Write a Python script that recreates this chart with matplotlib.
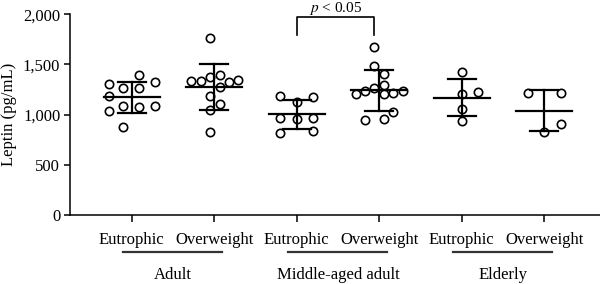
import numpy as np
import matplotlib.pyplot as plt
from matplotlib.transforms import blended_transform_factory

plt.rcParams['font.family'] = ['Liberation Serif', 'DejaVu Serif']
plt.rcParams['font.size'] = 12
plt.rcParams['mathtext.fontset'] = 'stix'

# group / category names
subgroups = ["Eutrophic", "Overweight", "Eutrophic", "Overweight", "Eutrophic", "Overweight"]
age_groups = ["Adult", "Middle-aged adult", "Elderly"]

# leptin values (pg/mL), with their horizontal scatter offset
adult_eu = [1303, 1186, 1040, 1263, 1087, 874, 1396, 1263, 1080, 1329, 1087]
adult_eu_dx = [-0.28, -0.28, -0.28, -0.10, -0.10, -0.10, 0.09, 0.09, 0.09, 0.28, 0.28]
adult_ov = [1339, 1339, 1373, 1190, 1047, 824, 1768, 1393, 1279, 1103, 1329, 1343]
adult_ov_dx = [-0.28, -0.16, -0.05, -0.05, -0.05, -0.05, -0.05, 0.07, 0.07, 0.07, 0.18, 0.29]
mid_eu = [1186, 964, 821, 1127, 954, 1180, 964, 841]
mid_eu_dx = [-0.2, -0.2, -0.2, 0.0, 0.0, 0.2, 0.2, 0.2]
mid_ov = [1678, 1489, 1263, 1406, 1296, 1203, 954, 1236, 947, 1203, 1213, 1024, 1239]
mid_ov_dx = [-0.06, -0.06, -0.06, 0.06, 0.06, 0.06, 0.06, -0.17, -0.17, -0.28, 0.17, 0.17, 0.29]
eld_eu = [1429, 1203, 1057, 940, 1223]
eld_eu_dx = [0.0, 0.0, 0.0, 0.0, 0.2]
eld_ov = [1213, 1213, 904, 824]
eld_ov_dx = [-0.2, 0.2, 0.2, 0.0]

groups = [adult_eu, adult_ov, mid_eu, mid_ov, eld_eu, eld_ov]
offsets = [adult_eu_dx, adult_ov_dx, mid_eu_dx, mid_ov_dx, eld_eu_dx, eld_ov_dx]

fig = plt.figure(figsize=(6, 2.84), dpi=100)
ax = fig.add_axes([0.1167, 0.243, 0.8833, 0.7067])

for i, (vals, dx) in enumerate(zip(groups, offsets)):
    x0 = i + 1
    vals = np.array(vals)
    m = vals.mean()
    sd = vals.std(ddof=1)
    ax.plot(x0 + np.array(dx), vals, 'o', ms=6, mfc='none', mec='black', mew=1.2, zorder=3)
    ax.plot([x0 - 0.34, x0 + 0.34], [m, m], color='black', lw=1.6, zorder=2)
    ax.plot([x0, x0], [m - sd, m + sd], color='black', lw=1.6, zorder=2)
    ax.plot([x0 - 0.17, x0 + 0.17], [m + sd, m + sd], color='black', lw=1.6, zorder=2)
    ax.plot([x0 - 0.17, x0 + 0.17], [m - sd, m - sd], color='black', lw=1.6, zorder=2)

# significance bracket
ax.plot([3, 3, 3.94, 3.94], [1795, 1971, 1971, 1795], color='black', lw=1.2, clip_on=False)
ax.text(3.47, 2022, "$p$ < 0.05", ha='center', va='baseline', fontsize=11)

ax.set_xlim(0.252, 6.676)
ax.set_ylim(0, 2000)
ax.set_yticks([0, 500, 1000, 1500, 2000])
ax.set_yticklabels(["0", "500", "1,000", "1,500", "2,000"])
ax.set_xticks(range(1, 7))
ax.set_xticklabels(subgroups)
ax.tick_params(axis='x', length=5, width=1.1, pad=7)
ax.tick_params(axis='y', length=4, width=1.1, pad=3)
for s in ['top', 'right']:
    ax.spines[s].set_visible(False)
for s in ['left', 'bottom']:
    ax.spines[s].set_linewidth(1.1)

ax.set_ylabel("Leptin (pg/mL)")
ax.yaxis.set_label_coords(-0.100, 0.5)

# age group lines and labels under the x axis
tr = blended_transform_factory(ax.transData, ax.transAxes)
for k, name in enumerate(age_groups):
    a = 2 * k + 1
    ax.plot([a - 0.1, a + 1.1], [-0.184, -0.184], color='#333333', lw=1.6,
            transform=tr, clip_on=False)
    ax.text(a + 0.5, -0.30, name, ha='center', va='center', transform=tr)

fig.savefig("out.png", dpi=100)
